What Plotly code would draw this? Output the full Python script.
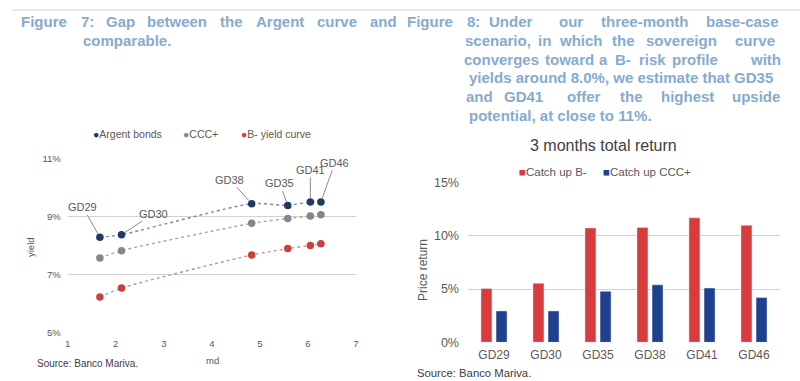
import plotly.graph_objects as go

W, H = 800, 381
def px(x): return x / W
def py(y): return 1 - y / H

FONT = "Liberation Sans, Arial, sans-serif"
TITLE_BLUE = "#86abcf"
GREY_TXT = "#595959"

# ---------------- data: Figure 7 (yield vs modified duration) ----------------
bonds_by_md = ["GD29", "GD30", "GD38", "GD35", "GD41", "GD46"]
modified_duration = [1.67, 2.12, 4.83, 5.58, 6.05, 6.27]
yield_argent = [8.29, 8.38, 9.45, 9.39, 9.51, 9.51]
yield_ccc = [7.58, 7.83, 8.77, 8.94, 9.02, 9.07]
yield_bminus = [6.23, 6.54, 7.68, 7.90, 8.01, 8.07]
left_series = ["Argent bonds", "CCC+", "B- yield curve"]
left_yticks = [5, 7, 9, 11]
left_yticklabels = ["5%", "7%", "9%", "11%"]

# ---------------- data: Figure 8 (3 months total return) ----------------
bonds = ["GD29", "GD30", "GD35", "GD38", "GD41", "GD46"]
catch_up_bminus = [5.05, 5.55, 10.75, 10.8, 11.7, 11.0]
catch_up_ccc = [2.95, 2.95, 4.8, 5.4, 5.1, 4.2]
right_series = ["Catch up B-", "Catch up CCC+"]
right_yticks = [0, 5, 10, 15]
right_yticklabels = ["0%", "5%", "10%", "15%"]

C_ARG, C_CCC, C_BM = "#1f3864", "#85858a", "#c9403f"
C_RED, C_BLUE = "#d83b3b", "#1f3f8f"

fig = go.Figure()

# dotted curves
for ys, col in [(yield_argent, "#7f8aa3"), (yield_ccc, "#a6a6a6"), (yield_bminus, "#b89a9a")]:
    fig.add_trace(go.Scatter(x=modified_duration, y=ys, mode="lines",
                             line=dict(color=col, width=1.4, dash="dot", shape="spline", smoothing=0.6),
                             xaxis="x", yaxis="y", showlegend=False, hoverinfo="skip"))
for ys, col, name in [(yield_argent, C_ARG, left_series[0]), (yield_ccc, C_CCC, left_series[1]), (yield_bminus, C_BM, left_series[2])]:
    fig.add_trace(go.Scatter(x=modified_duration, y=ys, mode="markers", name=name, text=bonds_by_md,
                             marker=dict(color=col, size=7.5), xaxis="x", yaxis="y", showlegend=False))

# bars
fig.add_trace(go.Bar(x=bonds, y=catch_up_bminus, name=right_series[0], marker_color=C_RED, xaxis="x2", yaxis="y2", showlegend=False))
fig.add_trace(go.Bar(x=bonds, y=catch_up_ccc, name=right_series[1], marker_color=C_BLUE, xaxis="x2", yaxis="y2", showlegend=False))

ann = []
def txt(text, x, y, size, color=GREY_TXT, xanchor="center", angle=0):
    ann.append(dict(text=text, x=px(x), y=py(y), xref="paper", yref="paper", showarrow=False, xanchor=xanchor,
                    yanchor="middle", textangle=angle, font=dict(family=FONT, size=size, color=color)))

# --- header texts (justified lines placed word by word) ---
line1_words = [("Figure", 44), ("7:", 87), ("Gap", 120), ("between", 177), ("the", 232), ("Argent", 280), ("curve", 337), ("and", 383)]
for w, xc in line1_words:
    txt("<b>%s</b>" % w, xc, 22, 15, TITLE_BLUE)
txt("<b>comparable.</b>", 81, 41, 15, TITLE_BLUE, "left")

fig8_lines = [
    (22, [("Figure", 429.5), ("8:", 473), ("Under", 511), ("our", 571), ("three-month", 645), ("base-case", 742)]),
    (40.6, [("scenario,", 498), ("in", 544), ("which", 581), ("the", 623), ("sovereign", 681), ("curve", 755)]),
    (59.2, [("converges", 502), ("toward", 569), ("a", 603), ("B-", 623), ("risk", 652), ("profile", 695), ("with", 765)]),
    (96.4, [("and", 479), ("GD41", 523), ("offer", 583), ("the", 631), ("highest", 687), ("upside", 756)]),
]
for yv, words in fig8_lines:
    for w, xc in words:
        txt("<b>%s</b>" % w, xc, yv, 15, TITLE_BLUE)
txt("<b>yields around 8.0%, we estimate that GD35</b>", 467, 77.8, 15, TITLE_BLUE, "left")
txt("<b>potential, at close to 11%.</b>", 467, 115, 15, TITLE_BLUE, "left")

# --- left chart legend ---
for col, name, xl in [(C_ARG, left_series[0], 91), (C_CCC, left_series[1], 181), (C_BM, left_series[2], 239)]:
    txt("<span style='color:%s'>●</span>%s" % (col, name), xl, 134, 10.5, GREY_TXT, "left")

# --- bond labels with leader lines ---
offsets = {"GD29": (-17, -30), "GD30": (32, -21), "GD38": (-22, -24), "GD35": (-8, -22), "GD41": (0, -32), "GD46": (14, -39)}
for b, xv, yv in zip(bonds_by_md, modified_duration, yield_argent):
    axo, ayo = offsets[b]
    ann.append(dict(text=b, x=xv, y=yv, xref="x", yref="y", ax=axo, ay=ayo, showarrow=True, arrowhead=0, arrowwidth=1,
                    arrowcolor="#8c8c8c", standoff=4, font=dict(family=FONT, size=11, color=GREY_TXT)))

# axis titles / sources
txt("yield", 30, 247, 9.5, angle=-90)
txt("md", 212, 360, 9.5)
txt("Source: Banco Mariva.", 35, 363, 10, "#404040", "left")

# right chart title / legend / source
txt("3 months total return", 603, 145, 16, "#404040")
for col, name, xl in [(C_RED, right_series[0], 517), (C_BLUE, right_series[1], 601)]:
    txt("<span style='color:%s'>■</span>%s" % (col, name), xl, 171.7, 11.5, GREY_TXT, "left")
txt("Price return", 423, 270, 12, angle=-90)
txt("Source: Banco Mariva.", 415, 372.5, 11.3, "#404040", "left")

fig.update_layout(
    width=W, height=H, margin=dict(l=0, r=0, t=0, b=0, pad=0),
    paper_bgcolor="white", plot_bgcolor="white", showlegend=False,
    bargap=0.42, bargroupgap=0.27, barmode="group",
    annotations=ann,
    shapes=[dict(type="line", xref="paper", yref="paper", x0=px(12), x1=1, y0=py(10), y1=py(10), line=dict(color="#d0d0d0", width=1))],
    xaxis=dict(domain=[px(67.7), px(356)], range=[1, 7], dtick=1, showgrid=False, zeroline=False, showline=False, automargin=False,
               tickfont=dict(family=FONT, size=9.5, color=GREY_TXT), anchor="y", ticks="", ticklabelstandoff=4),
    yaxis=dict(domain=[py(332.7), py(158.7)], range=[5, 11], tickmode="array", tickvals=left_yticks, ticktext=left_yticklabels,
               showgrid=True, gridcolor="#d2d2d2", gridwidth=1, zeroline=False, showline=False, anchor="x", automargin=False,
               tickfont=dict(family=FONT, size=9.5, color=GREY_TXT), ticklabelstandoff=6),
    xaxis2=dict(domain=[px(468), px(780)], showgrid=False, zeroline=False, showline=False, anchor="y2", automargin=False,
                tickfont=dict(family=FONT, size=12, color=GREY_TXT), ticks="", ticklabelstandoff=4),
    yaxis2=dict(domain=[py(342.3), py(182.7)], range=[0, 15], tickmode="array", tickvals=right_yticks, ticktext=right_yticklabels,
                showgrid=True, gridcolor="#d2d2d2", gridwidth=1, zeroline=False, showline=False, anchor="x2", automargin=False,
                tickfont=dict(family=FONT, size=12.5, color=GREY_TXT), ticklabelstandoff=8),
)

fig.write_html("out.html", config={"displayModeBar": False},
               post_script="document.body.style.margin='0';document.body.style.overflow='hidden';")
